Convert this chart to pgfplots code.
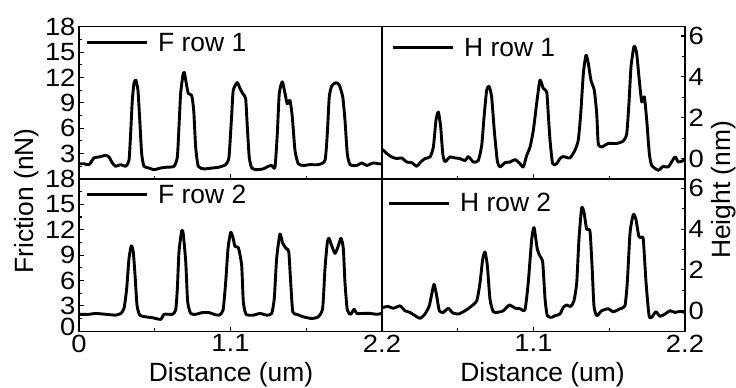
\documentclass[border=0pt]{standalone}
\usepackage{fontspec}
\setmainfont{Liberation Sans}
\newfontfamily\tickfam{Liberation Sans}[FakeStretch=1.1]
\usepackage{pgfplots}
\usepackage{pgfplotstable}
\pgfplotsset{compat=1.18}
\newcommand{\tickfont}{\tickfam\fontsize{25}{29}\selectfont}
\newcommand{\labfont}{\fontsize{26.5}{31}\selectfont}

\pgfplotstableread{
x y
0.000 1.8
0.036 1.8
0.073 1.7
0.109 2.5
0.145 2.6
0.194 2.8
0.218 2.6
0.242 1.9
0.266 1.5
0.303 1.7
0.339 1.5
0.363 2.2
0.375 5.4
0.387 9.3
0.399 11.3
0.412 11.7
0.428 10.5
0.441 7.0
0.455 3.0
0.472 1.5
0.508 1.3
0.545 1.1
0.593 1.3
0.641 1.4
0.690 1.5
0.714 2.6
0.726 6.2
0.738 10.1
0.755 12.3
0.765 12.6
0.779 11.3
0.794 10.1
0.818 9.9
0.833 8.1
0.847 3.8
0.866 1.5
0.908 1.2
0.968 1.3
1.017 1.4
1.065 1.7
1.089 2.6
1.109 7.7
1.120 10.5
1.149 11.4
1.169 10.7
1.189 10.1
1.210 9.5
1.222 6.2
1.236 2.6
1.254 1.3
1.290 1.1
1.338 1.2
1.374 1.5
1.399 1.6
1.423 1.4
1.440 5.4
1.454 10.1
1.476 11.5
1.496 10.1
1.512 8.9
1.532 9.3
1.549 7.3
1.568 3.4
1.592 1.8
1.629 1.6
1.677 1.7
1.737 1.7
1.786 2.2
1.803 5.4
1.817 9.7
1.835 11.0
1.866 11.4
1.890 11.1
1.915 9.7
1.931 7.0
1.948 3.0
1.968 1.7
2.016 1.6
2.053 1.9
2.089 1.6
2.137 1.9
2.173 1.8
2.200 1.8
}\FA

\pgfplotstableread{
x y
0.000 2.0
0.073 2.0
0.121 2.1
0.194 2.0
0.266 1.9
0.303 2.1
0.327 2.7
0.346 5.0
0.363 8.6
0.380 10.1
0.394 9.4
0.407 6.6
0.421 3.1
0.441 1.9
0.484 1.7
0.532 1.6
0.593 1.4
0.617 2.0
0.678 2.0
0.702 2.5
0.714 5.0
0.726 9.4
0.746 11.9
0.757 11.5
0.775 8.2
0.789 3.5
0.811 2.1
0.847 2.0
0.895 2.2
0.944 2.2
0.980 2.0
1.017 1.9
1.046 2.5
1.065 5.8
1.082 9.8
1.101 11.7
1.116 11.2
1.133 10.0
1.157 9.9
1.181 7.8
1.193 3.5
1.213 2.0
1.266 1.9
1.314 2.1
1.363 1.9
1.399 2.1
1.418 3.9
1.435 8.6
1.459 11.5
1.479 10.4
1.503 9.8
1.523 9.4
1.537 5.8
1.552 2.3
1.581 2.0
1.629 1.7
1.690 1.5
1.737 1.7
1.769 2.7
1.786 7.4
1.803 10.5
1.815 11.0
1.835 10.1
1.859 9.2
1.883 10.1
1.902 11.0
1.919 9.8
1.931 5.8
1.948 2.5
1.973 2.0
1.997 2.6
2.016 2.1
2.064 2.1
2.113 2.1
2.162 2.0
2.200 2.1
}\FB

\pgfplotstableread{
x y
0.000 0.45
0.009 0.41
0.034 0.25
0.070 0.08
0.107 0.00
0.143 0.03
0.179 -0.17
0.216 -0.20
0.252 -0.38
0.276 -0.20
0.312 0.00
0.349 0.08
0.373 0.57
0.392 1.88
0.409 2.28
0.426 1.55
0.441 0.25
0.457 -0.15
0.494 0.08
0.530 0.03
0.566 0.00
0.603 -0.10
0.627 0.10
0.663 -0.17
0.699 -0.10
0.724 0.65
0.741 2.04
0.760 3.35
0.777 3.54
0.796 3.02
0.815 1.39
0.837 -0.10
0.857 -0.41
0.893 -0.20
0.929 -0.17
0.966 -0.05
1.002 -0.25
1.026 -0.41
1.051 0.16
1.075 0.57
1.099 1.39
1.123 2.70
1.147 3.84
1.171 3.43
1.196 3.26
1.207 2.20
1.220 0.90
1.239 -0.25
1.268 -0.25
1.292 0.00
1.316 0.10
1.365 0.03
1.401 0.41
1.425 0.90
1.443 2.20
1.462 4.17
1.481 5.06
1.498 4.66
1.517 3.84
1.541 3.35
1.559 2.20
1.570 0.74
1.595 0.57
1.643 0.74
1.704 0.74
1.752 0.86
1.777 1.22
1.793 2.70
1.808 4.49
1.830 5.50
1.849 5.15
1.868 3.84
1.886 2.77
1.905 3.02
1.922 1.88
1.941 0.25
1.958 -0.33
2.006 -0.57
2.042 -0.38
2.079 -0.41
2.127 0.08
2.151 -0.17
2.187 -0.10
2.200 0.00
}\HA

\pgfplotstableread{
x y
0.000 0.15
0.009 0.17
0.046 0.21
0.082 0.12
0.131 0.24
0.167 0.00
0.203 -0.08
0.240 -0.24
0.276 -0.37
0.312 -0.16
0.343 0.24
0.361 0.81
0.378 1.30
0.397 0.73
0.416 0.00
0.445 -0.08
0.481 0.12
0.513 -0.10
0.554 -0.16
0.603 0.00
0.639 0.17
0.688 0.49
0.712 1.39
0.731 2.52
0.748 2.88
0.765 2.20
0.784 0.57
0.808 -0.05
0.844 -0.07
0.881 0.00
0.924 0.28
0.966 0.13
1.002 0.10
1.038 0.05
1.062 1.39
1.087 3.50
1.104 4.07
1.128 3.00
1.147 2.68
1.167 2.36
1.184 0.57
1.200 -0.24
1.232 -0.32
1.256 -0.24
1.292 -0.16
1.316 0.17
1.341 0.28
1.370 0.21
1.394 0.49
1.414 1.39
1.430 3.50
1.450 5.04
1.467 4.80
1.486 3.99
1.510 3.90
1.525 2.20
1.539 0.24
1.559 -0.24
1.595 0.00
1.643 0.10
1.679 -0.05
1.728 0.10
1.764 0.24
1.781 1.39
1.801 3.82
1.825 4.72
1.844 4.47
1.864 3.66
1.881 3.58
1.897 3.50
1.917 1.39
1.939 -0.24
1.958 -0.32
1.989 -0.05
2.018 -0.27
2.055 -0.16
2.091 0.00
2.127 -0.08
2.164 -0.03
2.200 -0.08
}\HB

\pgfplotsset{
 panel/.style={
  scale only axis, width=303bp, height=152.2bp,
  anchor=south west,
  xmin=0, xmax=2.2,
  axis line style={line width=1.2bp},
  every tick/.style={black, line width=1.1bp},
  major tick length=4.5bp, minor tick length=3bp,
  tick align=inside,
  xtick pos=left,
  xtick={0,1.1,2.2}, minor xtick={0.55,1.65},
  tick label style={font=\tickfont},
  yticklabel style={inner ysep=0pt},
  /pgf/number format/assume math mode=true,
  /pgf/number format/fixed,
  legend image code/.code={\draw[line width=3bp] (0bp,0bp) -- (60bp,0bp);},
  legend image post style={line width=3bp},
  legend style={draw=none, fill=none, inner sep=0pt, font=\labfont, anchor=west,
    /tikz/every odd column/.append style={column sep=8bp}},
 },
 left panel/.style={panel, ymin=0, ymax=18, ytick pos=left, minor ytick={1.5,4.5,...,16.5}},
 right panel/.style={panel, ymin=-1, ymax=6.45, ytick pos=right, ytick={0,2,4,6}, minor ytick={1,3,5}},
 curve/.style={black, line width=2.9bp, smooth, tension=0.35, line join=round},
}

\begin{document}
\begin{tikzpicture}
\useasboundingbox (0,0) rectangle (736bp,388bp);
% top left
\begin{axis}[left panel, at={(79bp,209bp)}, ytick={3,6,...,18}, xticklabels={},
  legend style={at={(axis description cs:0.0198,0.894)}}]
\addplot[curve] table {\FA};
\addlegendentry{F row 1}
\end{axis}
% bottom left
\begin{axis}[left panel, at={(79bp,56.8bp)}, ytick={3,6,...,18},
  extra y ticks={0}, extra y tick style={yticklabel style={yshift=4.5bp}},
  legend style={at={(axis description cs:0.0198,0.895)}}]
\addplot[curve] table {\FB};
\addlegendentry{F row 2}
\end{axis}
% top right
\begin{axis}[right panel, at={(382bp,209bp)}, xticklabels={},
  legend style={at={(axis description cs:0.0297,0.861)}}]
\addplot[curve] table {\HA};
\addlegendentry{H row 1}
\end{axis}
% bottom right
\begin{axis}[right panel, at={(382bp,56.8bp)}, xtick={1.1,2.2},
  legend style={at={(axis description cs:0.0165,0.842)}}]
\addplot[curve] table {\HB};
\addlegendentry{H row 2}
\end{axis}
\node[rotate=90, anchor=base, font=\labfont] at (33bp,187bp) {Friction (nN)};
\node[rotate=90, anchor=base, font=\labfont] at (730bp,198bp) {Height (nm)};
\node[anchor=base, font=\labfont] at (231bp,6.3bp) {Distance (um)};
\node[anchor=base, font=\labfont] at (542.5bp,6.3bp) {Distance (um)};
\end{tikzpicture}
\end{document}
